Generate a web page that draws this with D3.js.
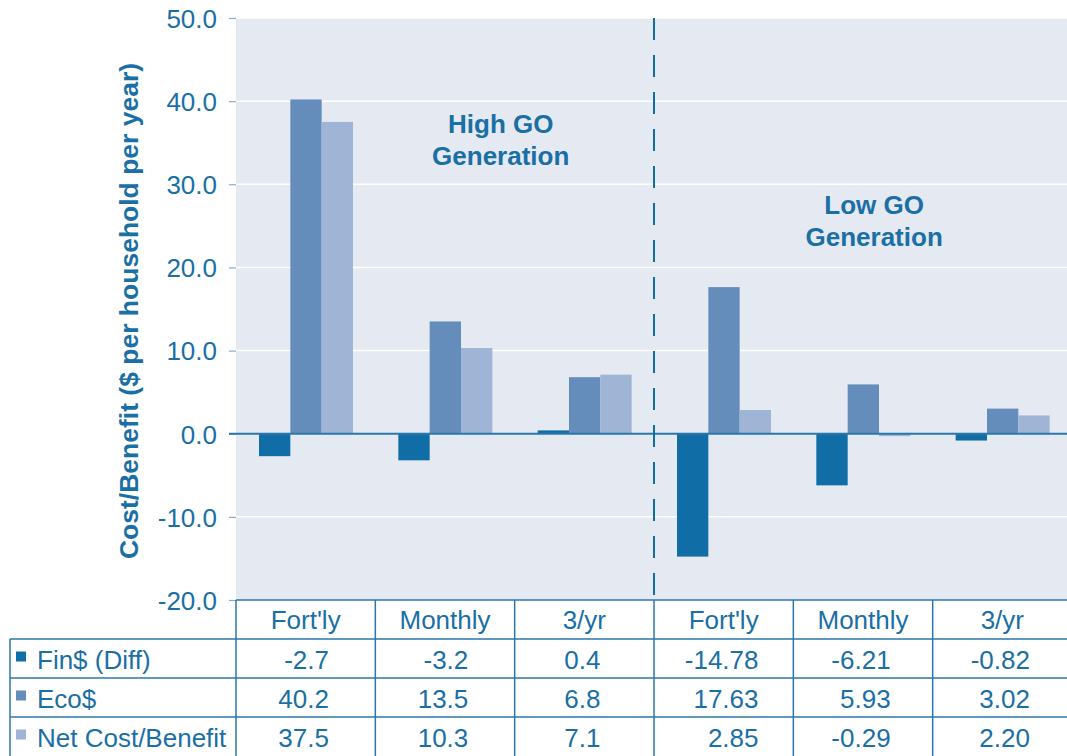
<!DOCTYPE html>
<html>
<head>
<meta charset="utf-8">
<script src="https://cdn.jsdelivr.net/npm/d3@7"></script>
<style>
  body { margin: 0; background: #fff; }
  svg { display: block; font-family: "Liberation Sans", Arial, sans-serif; }
</style>
</head>
<body>
<div id="chart"></div>
<script>
// Chart data
const categories = ["Fort'ly", "Monthly", "3/yr", "Fort'ly", "Monthly", "3/yr"];
const seriesNames = ["Fin$ (Diff)", "Eco$", "Net Cost/Benefit"];
const finValues = [-2.7, -3.2, 0.4, -14.78, -6.21, -0.82];
const ecoValues = [40.2, 13.5, 6.8, 17.63, 5.93, 3.02];
const netValues = [37.5, 10.3, 7.1, 2.85, -0.29, 2.2];
const finLabels = ["-2.7", "-3.2", "0.4", "-14.78", "-6.21", "-0.82"];
const ecoLabels = ["40.2", "13.5", "6.8", "17.63", "5.93", "3.02"];
const netLabels = ["37.5", "10.3", "7.1", "2.85", "-0.29", "2.20"];
const yTicks = [-20, -10, 0, 10, 20, 30, 40, 50];
// Annotation anchors: position in category units, value on the y scale
const groupNotes = [
  { lines: ["High GO", "Generation"], at: 1.9, value: 36.2 },
  { lines: ["Low GO", "Generation"], at: 4.58, value: 26.4 }
];

const COLOURS = ["#116da5", "#658dbb", "#a0b5d5"];
const TEXT_COLOUR = "#1a6fa5";
const LINE_COLOUR = "#2a77ab";

const width = 1067;
const height = 756;
const plot = { left: 236, right: 1072, top: 18, bottom: 600 };
const rowH = 39;

const svg = d3
  .select("#chart")
  .append("svg")
  .attr("width", width)
  .attr("height", height);

// Scales
const x = d3
  .scaleBand()
  .domain(d3.range(categories.length))
  .range([plot.left, plot.right]);

const inner = d3.scaleBand().domain(d3.range(3)).range([23, 117]);

const y = d3
  .scaleLinear()
  .domain([-20, 50])
  .range([plot.bottom, plot.top]);

// Plot background
svg
  .append("rect")
  .attr("x", plot.left)
  .attr("y", plot.top)
  .attr("width", plot.right - plot.left)
  .attr("height", plot.bottom - plot.top)
  .attr("fill", "#e4e9f2");

// Gridlines
svg
  .append("g")
  .selectAll("line")
  .data(yTicks.filter((d) => d !== 0 && d !== -20))
  .join("line")
  .attr("x1", plot.left)
  .attr("x2", plot.right)
  .attr("y1", (d) => y(d))
  .attr("y2", (d) => y(d))
  .attr("stroke", "#fff")
  .attr("stroke-width", 1.5);

// Y axis
const fmt = d3.format(".1f");
const yAxis = d3
  .axisLeft(y)
  .tickValues(yTicks)
  .tickFormat((d) => fmt(d).replace("\u2212", "-"))
  .tickSize(7)
  .tickPadding(12);

const yg = svg
  .append("g")
  .attr("transform", `translate(${plot.left}, 0)`)
  .call(yAxis);
yg.select(".domain").remove();
yg.selectAll(".tick line").attr("stroke", "#86abcf").attr("stroke-width", 1.2);
yg.selectAll(".tick text")
  .attr("fill", TEXT_COLOUR)
  .style("font-size", "26px")
  .style("font-family", "'Liberation Sans', Arial, sans-serif")
  .attr("dy", "0.36em");

// Y axis title
svg
  .append("text")
  .attr("transform", `translate(138, ${(plot.top + plot.bottom) / 2 + 2}) rotate(-90)`)
  .attr("text-anchor", "middle")
  .attr("fill", TEXT_COLOUR)
  .style("font-size", "26.5px")
  .style("font-weight", "bold")
  .text("Cost/Benefit ($ per household per year)");

// Bars
const series = [finValues, ecoValues, netValues];
const barData = [];
categories.forEach((c, i) => {
  series.forEach((vals, s) => barData.push({ col: i, s, v: vals[i] }));
});

svg
  .append("g")
  .selectAll("rect")
  .data(barData)
  .join("rect")
  .attr("x", (d) => x(d.col) + inner(d.s))
  .attr("y", (d) => y(Math.max(0, d.v)))
  .attr("width", inner.bandwidth())
  .attr("height", (d) => Math.abs(y(d.v) - y(0)))
  .attr("fill", (d) => COLOURS[d.s]);

// Zero line
svg
  .append("line")
  .attr("x1", plot.left - 7)
  .attr("x2", plot.right)
  .attr("y1", y(0))
  .attr("y2", y(0))
  .attr("stroke", LINE_COLOUR)
  .attr("stroke-width", 2);

// Dashed divider between High and Low GO
svg
  .append("line")
  .attr("x1", x(3))
  .attr("x2", x(3))
  .attr("y1", plot.top)
  .attr("y2", plot.bottom)
  .attr("stroke", "#116da5")
  .attr("stroke-width", 2)
  .attr("stroke-dasharray", "22 15");

// Group annotations
groupNotes.forEach((n) => {
  const col = Math.floor(n.at);
  const cx = x(col) + (n.at - col) * x.bandwidth();
  const t = svg
    .append("text")
    .attr("text-anchor", "middle")
    .attr("fill", TEXT_COLOUR)
    .style("font-size", "26px")
    .style("font-weight", "bold");
  n.lines.forEach((line, k) => {
    t.append("tspan")
      .attr("x", cx)
      .attr("y", y(n.value) + k * 32)
      .text(line);
  });
});

// Data table
const table = svg.append("g");
const rowTop = (r) => plot.bottom + r * rowH;

// Horizontal lines
table
  .append("line")
  .attr("x1", plot.left)
  .attr("x2", plot.right)
  .attr("y1", plot.bottom)
  .attr("y2", plot.bottom);
[1, 2, 3].forEach((r) => {
  table
    .append("line")
    .attr("x1", 10)
    .attr("x2", plot.right)
    .attr("y1", rowTop(r))
    .attr("y2", rowTop(r));
});
// Vertical lines
table
  .append("line")
  .attr("x1", 10)
  .attr("x2", 10)
  .attr("y1", rowTop(1))
  .attr("y2", height);
d3.range(categories.length).forEach((i) => {
  table
    .append("line")
    .attr("x1", x(i))
    .attr("x2", x(i))
    .attr("y1", plot.bottom)
    .attr("y2", height);
});
table.selectAll("line").attr("stroke", LINE_COLOUR).attr("stroke-width", 1.5);

// Header labels
table
  .selectAll(".head")
  .data(categories)
  .join("text")
  .attr("class", "head")
  .attr("x", (d, i) => x(i) + x.bandwidth() / 2)
  .attr("y", rowTop(0) + rowH / 2 + 9)
  .attr("text-anchor", "middle")
  .attr("fill", TEXT_COLOUR)
  .style("font-size", "26px")
  .text((d) => d);

// Legend keys
seriesNames.forEach((name, s) => {
  const cy = rowTop(s + 1) + rowH / 2 - 2;
  table
    .append("rect")
    .attr("x", 16)
    .attr("y", cy - 5)
    .attr("width", 10)
    .attr("height", 10)
    .attr("fill", COLOURS[s]);
  table
    .append("text")
    .attr("x", 37)
    .attr("y", rowTop(s + 1) + rowH / 2 + 10)
    .attr("fill", TEXT_COLOUR)
    .style("font-size", "26px")
    .text(name);
});

// Values, right aligned inside each column
const labelRows = [finLabels, ecoLabels, netLabels];
d3.range(categories.length).forEach((i) => {
  const colG = table.append("g");
  labelRows.forEach((labels, s) => {
    colG
      .append("text")
      .attr("x", x(i) + x.bandwidth() / 2)
      .attr("y", rowTop(s + 1) + rowH / 2 + 10)
      .attr("text-anchor", "end")
      .attr("fill", TEXT_COLOUR)
      .style("font-size", "26px")
      .text(labels[i]);
  });
  const maxW = d3.max(colG.selectAll("text").nodes(), (n) => n.getComputedTextLength());
  colG.attr("transform", `translate(${maxW / 2 - 2}, 0)`);
});
</script>
</body>
</html>
